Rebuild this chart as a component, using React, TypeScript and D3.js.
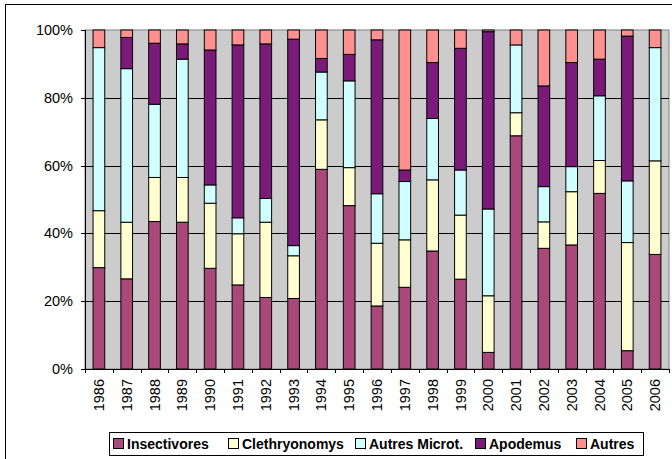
import React from "react";
import * as d3 from "d3";

const years = ["1986","1987","1988","1989","1990","1991","1992","1993","1994","1995","1996","1997","1998","1999","2000","2001","2002","2003","2004","2005","2006"];
const insectivores = [29.9,26.6,43.5,43.3,29.7,24.8,21.1,20.8,58.9,48.2,18.6,24.1,34.8,26.5,4.9,68.8,35.6,36.6,51.8,5.4,33.8];
const clethryonomys = [16.8,16.7,13.0,13.2,19.2,15.1,22.2,12.6,14.6,11.2,18.5,14.0,21.0,18.9,16.7,6.8,7.8,15.7,9.7,31.9,27.6];
const autresMicrot = [48.1,45.3,21.6,34.9,5.4,4.7,7.0,3.0,14.1,25.6,14.6,17.2,18.1,13.3,25.6,20.0,10.4,7.4,19.1,18.2,33.4];
const apodemus = [0,9.2,18.0,4.5,39.8,51.0,45.6,60.9,4.0,7.8,45.4,3.4,16.5,35.9,52.3,0,29.7,30.7,10.8,42.7,0];
const autres = [5.2,2.2,3.9,4.1,5.9,4.4,4.1,2.7,8.4,7.2,2.9,41.3,9.6,5.4,0.5,4.4,16.5,9.6,8.6,1.8,5.2];
const seriesNames = ["Insectivores","Clethryonomys","Autres Microt.","Apodemus","Autres"];
const yTicks = [0,0.2,0.4,0.6,0.8,1];

const colors = ["#A8497A","#FFFFD0","#D0FFFF","#7B1B79","#FF9090"];

export default function App() {
  const W = 672, H = 459;
  const left = 85, right = 669, top = 30, bottom = 369;
  const seriesData = [insectivores, clethryonomys, autresMicrot, apodemus, autres];
  const rows = years.map((y, i) => {
    const r: any = { year: y };
    const total = seriesData.reduce((s, arr) => s + arr[i], 0);
    seriesNames.forEach((n, k) => { r[n] = seriesData[k][i] / total; });
    return r;
  });
  const stack = d3.stack<any>().keys(seriesNames)(rows);
  const x = d3.scaleBand().domain(years).range([left, right]).paddingInner(0.58).paddingOuter(0.29);
  const xStep = d3.scaleBand().domain(years).range([left, right]);
  const y = d3.scaleLinear().domain([0, 1]).range([bottom, top]);
  const fmt = d3.format(".0%");
  const font = "Arial, 'Liberation Sans', sans-serif";

  const legendX = [113, 228, 355, 475, 576];

  return (
    <svg width={W} height={H} style={{ position: "absolute", left: 0, top: 0 }} fontFamily={font}>
      <rect x={0} y={0} width={W} height={H} fill="#fff" />
      <rect x={5.5} y={4.5} width={W + 10} height={H + 10} fill="none" stroke="#000" strokeWidth={1} />
      <rect x={left} y={top} width={right - left} height={bottom - top} fill="#CCCCCC" stroke="#808080" strokeWidth={1} />
      {yTicks.slice(1, 5).map((t) => (
        <line key={t} x1={left} x2={right} y1={Math.round(y(t)) + 0.5} y2={Math.round(y(t)) + 0.5} stroke="#000" strokeWidth={1} />
      ))}
      {stack.map((s, k) => (
        <g key={s.key}>
          {s.map((d, i) => {
            const h = y(d[0]) - y(d[1]);
            if (h <= 0.01) return null;
            return (
              <rect key={i} x={x(years[i])!} y={y(d[1])} width={x.bandwidth()} height={h}
                fill={colors[k]} stroke="#000" strokeWidth={1} />
            );
          })}
        </g>
      ))}
      <line x1={left + 0.5} x2={left + 0.5} y1={top} y2={bottom} stroke="#000" />
      <line x1={left} x2={right} y1={bottom + 0.5} y2={bottom + 0.5} stroke="#000" />
      {yTicks.map((t) => (
        <g key={t}>
          <line x1={left - 4} x2={left} y1={Math.round(y(t)) + 0.5} y2={Math.round(y(t)) + 0.5} stroke="#000" />
          <text x={73} y={y(t)} dy="0.35em" textAnchor="end" fontSize={14.5}>{fmt(t)}</text>
        </g>
      ))}
      {years.map((yr, i) => (
        <g key={yr}>
          <line x1={Math.round(xStep(yr)!) + 0.5} x2={Math.round(xStep(yr)!) + 0.5} y1={bottom} y2={bottom + 4} stroke="#000" />
          <text transform={`translate(${xStep(yr)! + xStep.bandwidth() / 2},${379}) rotate(-90)`} dy="0.35em" textAnchor="end" fontSize={14.5}>{yr}</text>
        </g>
      ))}
      <line x1={right + 0.5} x2={right + 0.5} y1={bottom} y2={bottom + 4} stroke="#000" />
      <rect x={109.5} y={432.5} width={534} height={23} fill="#fff" stroke="#000" />
      {seriesNames.map((n, k) => (
        <g key={n}>
          <rect x={legendX[k] + 0.5} y={438.5} width={10} height={10} fill={colors[k]} stroke="#000" />
          <text x={legendX[k] + 14} y={444} dy="0.35em" fontSize={14} fontWeight="bold">{n}</text>
        </g>
      ))}
    </svg>
  );
}
